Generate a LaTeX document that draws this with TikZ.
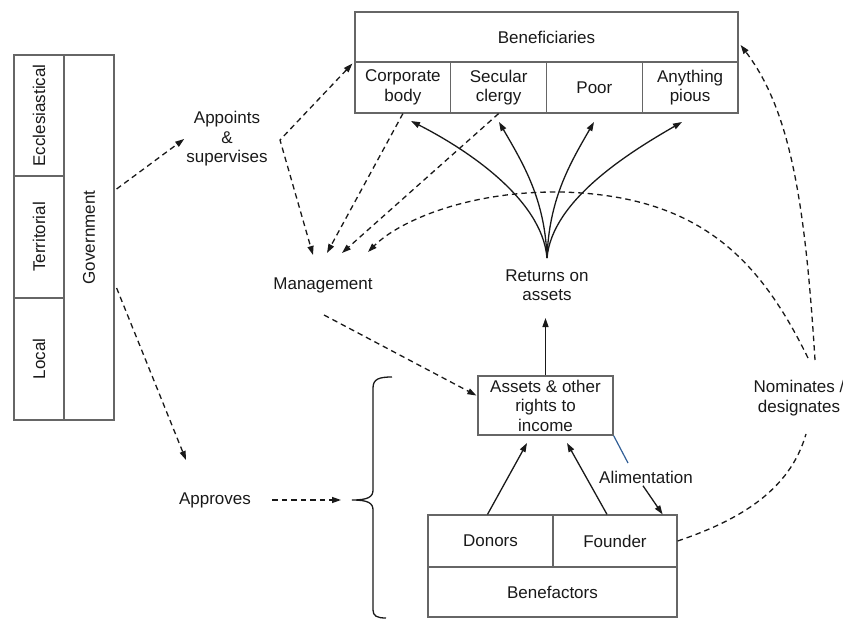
\documentclass[tikz,border=0pt]{standalone}
\usepackage{fontspec}
\setmainfont{Liberation Sans}
\usetikzlibrary{arrows.meta,calc}
\begin{document}
\begin{tikzpicture}[x=1bp,y=-1bp,
  every node/.style={font=\fontsize{17bp}{19.5bp}\selectfont, text=black!90, align=center},
  cell/.style={draw=black!60, line width=1.2bp, inner sep=0pt},
  tipa/.tip={Triangle[length=9bp,width=6bp]},
  arr/.style={-tipa, line width=1.3bp, draw=black!90},
  dsh/.style={arr, dash pattern=on 5.5bp off 4bp},
  dsh2/.style={tipa-tipa, line width=1.3bp, draw=black!90, dash pattern=on 5.5bp off 4bp},
  dline/.style={line width=1.3bp, draw=black!90, dash pattern=on 5.5bp off 4bp},
  bluel/.style={line width=1.2bp, draw={rgb,255:red,50;green,95;blue,150}}]
\useasboundingbox (0,0) rectangle (843,619);
% Government block
\node[cell, rotate=90, minimum width=121bp, minimum height=50bp] (eccl) at (39,115.5) {Ecclesiastical};
\node[cell, rotate=90, minimum width=122bp, minimum height=50bp] (terr) at (39,237) {Territorial};
\node[cell, rotate=90, minimum width=122bp, minimum height=50bp] (local) at (39,359) {Local};
\node[cell, rotate=90, minimum width=365bp, minimum height=50bp] (gov) at (89,237.5) {Government};
% Beneficiaries
\node[cell, minimum width=383bp, minimum height=50bp] (ben) at (546.5,37) {Beneficiaries};
\node[cell, minimum width=95.75bp, minimum height=51bp] (corp) at (402.9,87.5) {Corporate\\body};
\node[cell, minimum width=95.75bp, minimum height=51bp] (sec) at (498.6,87.5) {Secular\\clergy};
\node[cell, minimum width=95.75bp, minimum height=51bp] (poor) at (594.4,87.5) {Poor};
\node[cell, minimum width=95.75bp, minimum height=51bp] (pious) at (690.1,87.5) {Anything\\pious};
% Assets and benefactors
\node[cell, minimum width=135bp, minimum height=59bp] (assets) at (545.5,405.5) {Assets \& other\\rights to\\income};
\node[cell, minimum width=125bp, minimum height=52bp] (donors) at (490.5,541) {Donors};
\node[cell, minimum width=124bp, minimum height=52bp] (founder) at (615,541) {Founder};
\node[cell, minimum width=249bp, minimum height=50bp] (benef) at (552.5,592) {Benefactors};
% Labels
\node[inner sep=2bp] (app) at (227,139) {Appoints\\\&\\supervises};
\node (mgmt) at (323,285) {Management};
\node (rets) at (547,285) {Returns on\\assets};
\node (appr) at (215,500) {Approves};
\node (nom) at (799,398) {Nominates /\\designates};
\node (alim) at (646,477) {Alimentation};
% Coordinates
\coordinate (corner) at (280,140);
\coordinate (m1) at (313,255);
\coordinate (m2) at (327,253);
\coordinate (m3) at (342,253);
\coordinate (m4) at (368,252);
\coordinate (apprTip) at (186,460);
\coordinate (brtip) at (352,500);
\coordinate (a1) at (527,443);
\coordinate (a2) at (567,443);
\coordinate (blueEnd) at (628,463);
\coordinate (t1) at (411,121);
\coordinate (t2) at (499,122);
\coordinate (t3) at (594,122);
\coordinate (t4) at (682,122);
\coordinate (n1) at (808,358);
\coordinate (n2) at (815,360);
\coordinate (n3) at (806,434);
\coordinate (mg) at (324,315);
\coordinate (rtip) at (545.5,318);
\coordinate (origin) at (547,258);
% Government connectors (gov is rotated: its south anchor is the right side)
\draw[dsh] ($(gov.south)+(2,-48.5)$) -- (app.west);
\draw[dsh] ($(gov.south)+(2,50.5)$) -- (apprTip);
\draw[dsh2] ($(ben.south west)+(-2,1)$) -- (corner) -- (m1);
\draw[dsh] (corp.south) -- (m2);
\draw[dsh] (sec.south) -- (m3);
\draw[dsh] (n1) .. controls (760,260) and (700,195) .. (560,192) .. controls (470,191) and (400,220) .. (m4);
\draw[dsh] (n2) .. controls (805,200) and (790,110) .. ($(ben.east)+(2,8)$);
\draw[dline] (founder.east) .. controls (740,520) and (790,490) .. (n3);
\draw[dsh] (mg) -- ($(assets.west)+(-1,-10)$);
% Fan
\draw[arr] (origin) .. controls (542,198) and (464,148) .. (t1);
\draw[arr] (origin) .. controls (545,200) and (524,165) .. (t2);
\draw[arr] (origin) .. controls (549,200) and (569,165) .. (t3);
\draw[arr] (origin) .. controls (552,200) and (630,152) .. (t4);
% Assets
\draw[arr] (assets.north) -- (rtip);
\draw[arr] ($(donors.north)+(-3,0)$) -- (a1);
\draw[arr] ($(founder.north)+(-8,0)$) -- (a2);
\draw[bluel] (assets.south east) -- (blueEnd);
\draw[arr] ($(alim.south)+(-3,-1)$) -- ($(founder.north east)+(-15,0)$);
% Approves and brace
\draw[dsh] ($(appr.east)+(18,0)$) -- ($(brtip)+(-11,0)$);
\draw[line width=1.3bp, draw=black!90] (392,377) .. controls (379,377) and (373,379) .. (373,388) -- (373,490) .. controls (373,497) and (368,500) .. (brtip) .. controls (368,500) and (373,503) .. (373,510) -- (373,610) .. controls (373,616) and (377,618) .. (386,618);
\end{tikzpicture}
\end{document}
